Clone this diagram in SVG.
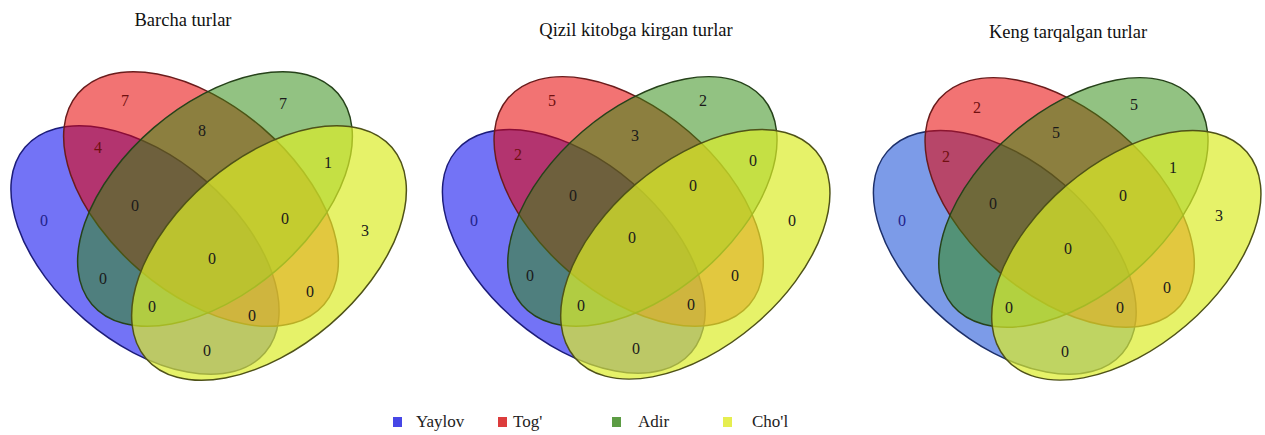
<svg xmlns="http://www.w3.org/2000/svg" width="1265" height="435" viewBox="0 0 1265 435">
<style>
.bl{fill:#0000ee;fill-opacity:.55;stroke:#1c1c7a;stroke-width:1.5}
.bl3{fill:#1049d5;fill-opacity:.55;stroke:#1c2f6a;stroke-width:1.5}
.rd{fill:#e80000;fill-opacity:.55;stroke:#6a1c1c;stroke-width:1.5}
.gr{fill:#2e8a10;fill-opacity:.52;stroke:#26421a;stroke-width:1.5}
.yl{fill:#dbec29;fill-opacity:.7;stroke:#4f5218;stroke-width:1.5}
.title{font-family:"Liberation Serif","Times New Roman",serif;font-size:18.5px;fill:#111;text-anchor:middle}
.n{font-family:"Liberation Serif","Times New Roman",serif;font-size:16px;fill:#1a1a1a;text-anchor:middle}
.nb{fill:#22228a}
.nr{fill:#701010}
.lg{font-family:"Liberation Serif","Times New Roman",serif;font-size:17px;fill:#222}
</style>
<rect width="1265" height="435" fill="#ffffff"/>

<g id="venn-barcha">
  <text class="title" x="183" y="26">Barcha turlar</text>
  <g id="sets-barcha">
    <ellipse id="d1-yaylov" class="bl" cx="145" cy="250" rx="158" ry="92" transform="rotate(40.6 145 250)"/>
    <ellipse id="d1-tog" class="rd" cx="201" cy="199" rx="162" ry="94" transform="rotate(40.6 201 199)"/>
    <ellipse id="d1-adir" class="gr" cx="215" cy="199" rx="162" ry="94" transform="rotate(-40.6 215 199)"/>
    <ellipse id="d1-chol" class="yl" cx="269" cy="253" rx="162" ry="94" transform="rotate(-40.6 269 253)"/>
  </g>
  <g id="counts-barcha">
    <text class="n nr" x="125" y="106">7</text>
    <text class="n nr" x="98" y="153">4</text>
    <text class="n" x="202" y="136">8</text>
    <text class="n" x="283" y="109">7</text>
    <text class="n" x="328" y="168">1</text>
    <text class="n nb" x="44" y="226">0</text>
    <text class="n" x="135" y="211">0</text>
    <text class="n" x="285" y="224">0</text>
    <text class="n" x="365" y="236">3</text>
    <text class="n" x="212" y="264">0</text>
    <text class="n" x="103" y="284">0</text>
    <text class="n" x="152" y="312">0</text>
    <text class="n" x="310" y="297">0</text>
    <text class="n" x="252" y="321">0</text>
    <text class="n" x="207" y="356">0</text>
  </g>
</g>

<g id="venn-qizil">
  <text class="title" x="636" y="36">Qizil kitobga kirgan turlar</text>
  <g id="sets-qizil" transform="translate(431.7 6.4) scale(0.98)">
    <ellipse id="d2-yaylov" class="bl" cx="145" cy="250" rx="158" ry="92" transform="rotate(40.6 145 250)"/>
    <ellipse id="d2-tog" class="rd" cx="201" cy="199" rx="162" ry="94" transform="rotate(40.6 201 199)"/>
    <ellipse id="d2-adir" class="gr" cx="215" cy="199" rx="162" ry="94" transform="rotate(-40.6 215 199)"/>
    <ellipse id="d2-chol" class="yl" cx="269" cy="253" rx="162" ry="94" transform="rotate(-40.6 269 253)"/>
  </g>
  <g id="counts-qizil">
    <text class="n nr" x="552" y="106">5</text>
    <text class="n" x="703" y="106">2</text>
    <text class="n" x="635" y="141">3</text>
    <text class="n nr" x="518" y="160">2</text>
    <text class="n" x="753" y="166">0</text>
    <text class="n" x="573" y="201">0</text>
    <text class="n" x="693" y="191">0</text>
    <text class="n nb" x="474" y="226">0</text>
    <text class="n" x="792" y="226">0</text>
    <text class="n" x="632" y="243">0</text>
    <text class="n" x="530" y="281">0</text>
    <text class="n" x="735" y="281">0</text>
    <text class="n" x="581" y="311">0</text>
    <text class="n" x="691" y="310">0</text>
    <text class="n" x="636" y="354">0</text>
  </g>
</g>

<g id="venn-keng">
  <text class="title" x="1068" y="38">Keng tarqalgan turlar</text>
  <g id="sets-keng" transform="translate(862.7 7.4) scale(0.98)">
    <ellipse id="d3-yaylov" class="bl3" cx="145" cy="250" rx="158" ry="92" transform="rotate(40.6 145 250)"/>
    <ellipse id="d3-tog" class="rd" cx="201" cy="199" rx="162" ry="94" transform="rotate(40.6 201 199)"/>
    <ellipse id="d3-adir" class="gr" cx="215" cy="199" rx="162" ry="94" transform="rotate(-40.6 215 199)"/>
    <ellipse id="d3-chol" class="yl" cx="269" cy="253" rx="162" ry="94" transform="rotate(-40.6 269 253)"/>
  </g>
  <g id="counts-keng">
    <text class="n nr" x="977" y="113">2</text>
    <text class="n" x="1134" y="110">5</text>
    <text class="n" x="1056" y="138">5</text>
    <text class="n nr" x="946" y="162">2</text>
    <text class="n" x="1173" y="173">1</text>
    <text class="n" x="993" y="209">0</text>
    <text class="n" x="1123" y="201">0</text>
    <text class="n nb" x="902" y="226">0</text>
    <text class="n" x="1219" y="221">3</text>
    <text class="n" x="1068" y="254">0</text>
    <text class="n" x="1167" y="293">0</text>
    <text class="n" x="1009" y="313">0</text>
    <text class="n" x="1120" y="313">0</text>
    <text class="n" x="1065" y="357">0</text>
  </g>
</g>

<g id="legend">
  <g id="legend-yaylov"><rect x="393" y="417" width="9" height="10" fill="#4646e6"/><text class="lg" x="416" y="427">Yaylov</text></g>
  <g id="legend-tog"><rect x="498" y="417" width="9" height="10" fill="#dc3c3c"/><text class="lg" x="513" y="427">Tog'</text></g>
  <g id="legend-adir"><rect x="612" y="417" width="9" height="10" fill="#5c9c44"/><text class="lg" x="638" y="427">Adir</text></g>
  <g id="legend-chol"><rect x="723" y="417" width="9" height="10" fill="#e6ee50"/><text class="lg" x="752" y="427">Cho'l</text></g>
</g>
</svg>
